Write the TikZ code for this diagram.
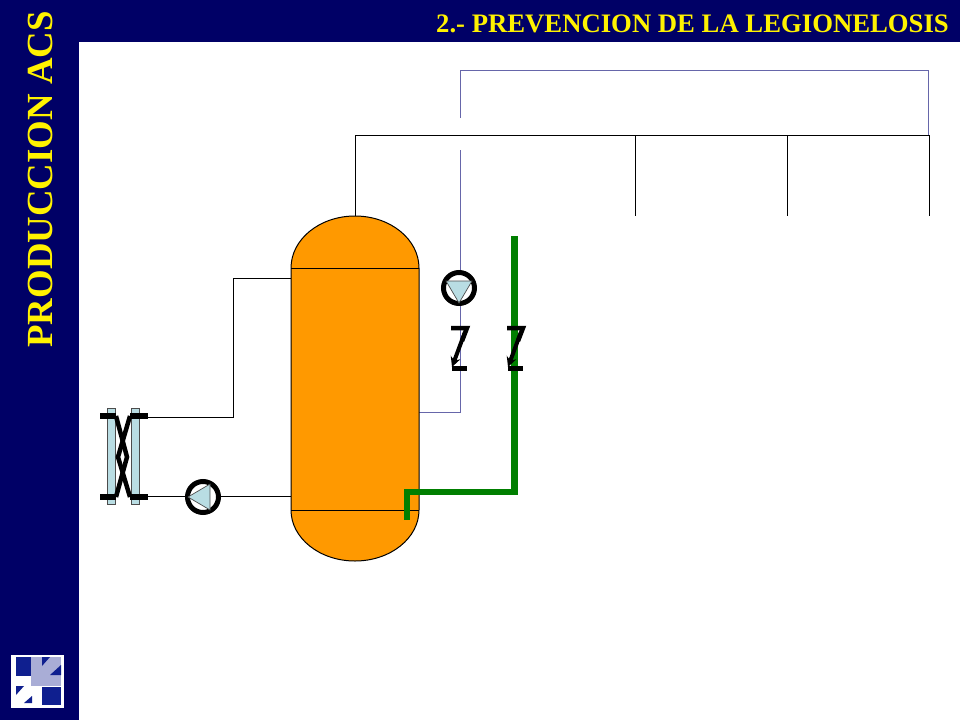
\documentclass[tikz,border=0pt]{standalone}
\usepackage{fontspec}
\setmainfont{Liberation Serif}
\usetikzlibrary{calc,arrows.meta}

\definecolor{banner}{HTML}{000066}
\definecolor{tank}{HTML}{FF9900}
\definecolor{plate}{HTML}{B9DDE3}
\definecolor{loopline}{HTML}{6666AA}
\definecolor{feed}{HTML}{007F00}
\definecolor{logolight}{HTML}{A9ADD6}
\definecolor{logodark}{HTML}{0F1F8F}

\tikzset{
  pipe/.style={draw=black, line width=1pt},
  return/.style={draw=loopline, line width=1pt},
  feedpipe/.style={draw=feed, line width=6.5pt},
  heavy/.style={draw=black, line width=6.5pt},
  pump/.style={circle, draw=black, line width=5pt, fill=white, minimum size=31pt, inner sep=0pt},
  blade/.style={fill=plate, draw=black!70, line width=0.7pt},
  title/.style={font=\bfseries, text=yellow, inner sep=0pt}
}

\begin{document}
\begin{tikzpicture}[x=1pt, y=-1pt]
\useasboundingbox (0,0) rectangle (960,720);

% Banners
\fill[banner] (0,0) rectangle (960,42);
\fill[banner] (0,0) rectangle (79,720);
\node[title, font=\bfseries\fontsize{26.7}{28}\selectfont, anchor=east] (head) at (949,24) {2.- PREVENCION DE LA LEGIONELOSIS};
\node[title, font=\bfseries\fontsize{36.8}{38}\selectfont, rotate=90] (side) at (40,179.5) {PRODUCCION ACS};

% Logo
\fill[white] (11,655) rectangle (64,708);
\fill[logodark] (16,657) rectangle (31,676);
\fill[logolight] (31,657) rectangle (61,686);
\fill[logodark] (42,657) -- (50,657) -- (42,666) -- cycle;
\fill[logodark] (61,665) -- (61,675) -- (50,675) -- cycle;
\fill[logodark] (42,687) rectangle (61,705);
\fill[logodark] (16,686) -- (24,686) -- (16,695) -- cycle;
\fill[logodark] (32,696) -- (32,703) -- (24,703) -- cycle;

% Tank corners
\coordinate (TL) at (291,268);
\coordinate (TR) at (419,268);
\coordinate (BR) at (419,510);
\coordinate (BL) at (291,510);
\coordinate (top) at (355,216);

% Distribution
\coordinate (D1) at (355,135);
\coordinate (D2) at (929,135);
\coordinate (E2) at (929,216);
\draw[pipe] (top) -- (D1) -- (D2) -- (E2);
\foreach \x/\name in {635/a, 787/b} {
  \coordinate (S\name) at (\x,135);
  \coordinate (F\name) at (\x,216);
  \draw[pipe] (S\name) -- (F\name);
}

% Return loop
\coordinate (R0) at (460,118);
\coordinate (R1) at (460,70);
\coordinate (R2) at (928,70);
\coordinate (R3) at (928,135);
\coordinate (R4) at (460,150);
\coordinate (R5) at (460,412);
\coordinate (R6) at (419,412);
\draw[return] (R0) -- (R1) -- (R2) -- (R3);
\draw[return] (R4) -- (R5) -- (R6);

% Primary circuit
\coordinate (P1) at (291,278);
\coordinate (P2) at (233,278);
\coordinate (P3) at (233,417);
\coordinate (P4) at (148,417);
\coordinate (P5) at (148,496);
\coordinate (P6) at (291,496);
\draw[pipe] (P1) -- (P2) -- (P3) -- (P4);
\draw[pipe] (P5) -- (P6);

% Tank
\draw[fill=tank, draw=black, line width=1pt] (TL) arc[start angle=180, end angle=0, x radius=64, y radius=-52]
  -- (BR) arc[start angle=0, end angle=-180, x radius=64, y radius=-51] -- cycle;
\draw[pipe] (TL) -- (TR);
\draw[pipe] (BL) -- (BR);

% Cold water feed
\coordinate (G1) at (514.5,236);
\coordinate (G2) at (514.5,492);
\coordinate (G3) at (407,492);
\coordinate (G4) at (407,520);
\draw[feedpipe] (G1) -- (G2) -- (G3) -- (G4);

% Pumps
\node[pump] (pumpH) at (203,497) {};
\fill[blade] (188,497) -- (210,484) -- (210,510) -- cycle;
\node[pump] (pumpV) at (459,288) {};
\fill[blade] (446,281) -- (472,281) -- (459,303) -- cycle;

% Check valves
\foreach \x/\name in {451/l, 507/r} {
  \coordinate (V\name) at (\x,328);
  \draw[line width=4.5pt] (V\name) -- ++(16,0) -- ++(-5,13);
  \draw[line width=4.5pt] (\x+1,368.5) -- ++(15,0);
  \draw[-{Stealth[length=10pt,width=10pt]}, line width=4pt] (\x+14,332) -- (\x+1,367);
}

% Exchanger
\fill[blade] (107,408) rectangle (115,504);
\fill[blade] (131,408) rectangle (139,504);
\draw[heavy] (100,416) -- (116,416);
\draw[heavy] (130,416) -- (148,416);
\draw[heavy] (100,497) -- (116,497);
\draw[heavy] (130,497) -- (148,497);
\draw[heavy, line width=4.5pt] (116,416) -- (127,457) -- (116,497);
\draw[heavy, line width=4.5pt] (130,416) -- (118,457) -- (130,497);

\end{tikzpicture}
\end{document}
